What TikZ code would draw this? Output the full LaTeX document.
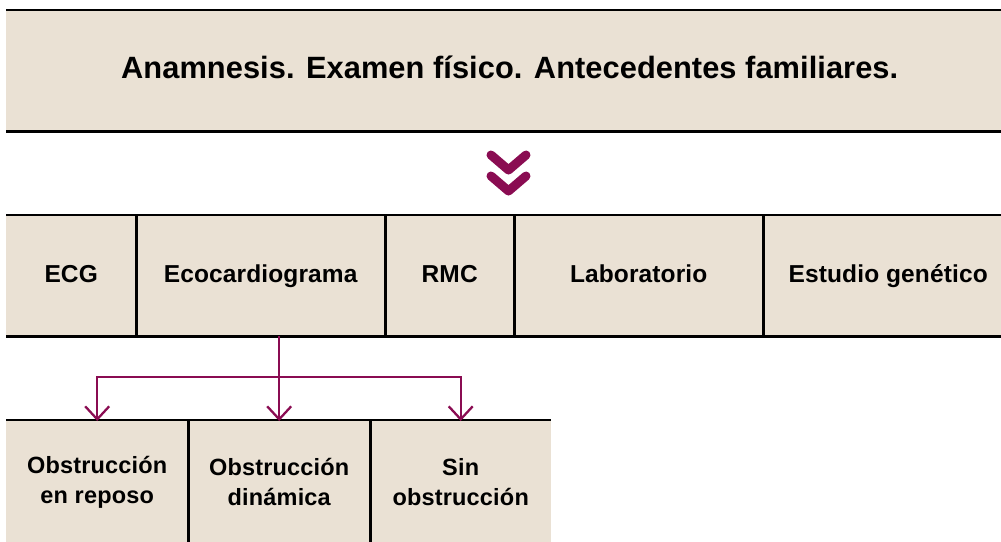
\documentclass[tikz,border=0pt]{standalone}
\usepackage{fontspec}
\setmainfont{Liberation Sans}
\newfontfamily\titlefont[LetterSpace=0.2]{Liberation Sans}
\newfontfamily\midfont[LetterSpace=0.5]{Liberation Sans}
\newfontfamily\lowfont[LetterSpace=0.8]{Liberation Sans}
\usetikzlibrary{arrows.meta}
\definecolor{beige}{HTML}{EAE1D4}
\definecolor{plum}{HTML}{8A0C52}
\tikzset{
  cell/.style={fill=beige, inner sep=0pt, anchor=north west, align=center, text=black},
  oneline/.style={text height=18pt, text depth=5pt},
  hline/.style={line width=2.6pt, black},
  vline/.style={line width=2.2pt, black},
  conn/.style={line width=2.3pt, plum},
  arr/.style={conn, -{Straight Barb[length=13pt,width=24pt]}},
  chev/.style={line width=9pt, plum, line cap=round, line join=round}
}
\begin{document}
\begin{tikzpicture}[x=1pt,y=-1pt]
\useasboundingbox (0,0) rectangle (1001,541);
% title box
\node[cell, minimum width=1007pt, minimum height=121pt, text height=22pt, text depth=6pt,
      font=\titlefont\bfseries\fontsize{30.8}{34}\selectfont] (title) at (6,10)
      {Anamnesis. Examen físico. Antecedentes familiares.};
\draw[hline] (title.north west) -- (title.north east);
\draw[hline] (title.south west) -- (title.south east);
% chevron
\draw[chev] (491,155) -- (508.5,170) -- (526,155);
\draw[chev] (491,176) -- (508.5,191) -- (526,176);
% middle row
\begin{scope}[every node/.append style={oneline, font=\midfont\bfseries\fontsize{24.5}{28}\selectfont}]
\node[cell, minimum width=130pt, minimum height=121pt] (ecg) at (6,215) {ECG};
\node[cell, minimum width=249pt, minimum height=121pt] (eco) at (136,215) {Ecocardiograma};
\node[cell, minimum width=129pt, minimum height=121pt] (rmc) at (385,215) {RMC};
\node[cell, minimum width=249pt, minimum height=121pt] (lab) at (514,215) {Laboratorio};
\node[cell, minimum width=250pt, minimum height=121pt] (gen) at (763,215) {Estudio genético};
\end{scope}
\draw[hline] (ecg.north west) -- (gen.north east);
\draw[hline] (ecg.south west) -- (gen.south east);
\draw[vline] (ecg.north east) -- (ecg.south east);
\draw[vline] (eco.north east) -- (eco.south east);
\draw[vline] (rmc.north east) -- (rmc.south east);
\draw[vline] (lab.north east) -- (lab.south east);
% bottom row
\begin{scope}[every node/.append style={font=\lowfont\bfseries\fontsize{23.5}{30}\selectfont}]
\node[cell, minimum width=182pt, minimum height=124pt] (ob1) at (6,420) {Obstrucción\\en reposo};
\node[cell, minimum width=182pt, minimum height=124pt] (ob2) at (188,420) {Obstrucción\\dinámica};
\node[cell, minimum width=181pt, minimum height=124pt] (ob3) at (370,420) {Sin\\obstrucción};
\end{scope}
\draw[hline] (ob1.north west) -- (ob3.north east);
\draw[vline] (ob1.north east) -- (ob1.south east);
\draw[vline] (ob2.north east) -- (ob2.south east);
% connectors
\coordinate (hub) at (280,377);
\draw[arr] (eco.south -| ob2.north) -- ([yshift=-1pt]ob2.north);
\draw[arr] (hub) -| ([yshift=-1pt]ob1.north);
\draw[arr] (hub) -| ([yshift=-1pt]ob3.north);
\end{tikzpicture}
\end{document}
